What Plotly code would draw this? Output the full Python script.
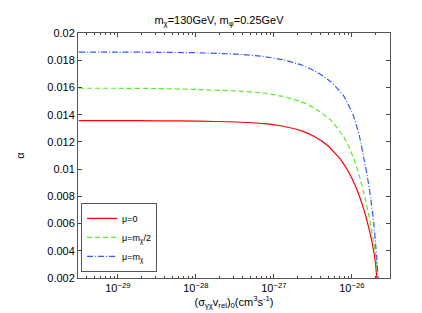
import plotly.graph_objects as go

# log10 of (sigma v)_0 and alpha
red_logx = [-29.5, -29.0, -28.5, -27.983, -27.481, -27.126, -26.881, -26.636, -26.474, -26.310, -26.147,
            -26.024, -25.963, -25.902, -25.841, -25.780, -25.739, -25.698, -25.687, -25.678]
red_alpha = [0.01356, 0.01356, 0.01355, 0.01353, 0.01346, 0.01334, 0.01315, 0.01279, 0.01238, 0.01174, 0.01073,
             0.00961, 0.00888, 0.00801, 0.00695, 0.00564, 0.00460, 0.00320, 0.00254, 0.00200]

green_logx = [-29.5, -29.0, -28.5, -27.983, -27.481, -27.126, -26.881, -26.677, -26.474, -26.269, -26.106,
              -26.024, -25.963, -25.902, -25.841, -25.780, -25.739, -25.698, -25.678, -25.666]
green_alpha = [0.01594, 0.01594, 0.01592, 0.01585, 0.01574, 0.01559, 0.01534, 0.01501, 0.01447, 0.01359, 0.01239,
               0.01148, 0.01060, 0.00948, 0.00813, 0.00654, 0.00532, 0.00382, 0.00280, 0.00200]

blue_logx = [-29.5, -29.0, -28.5, -27.983, -27.481, -27.126, -26.881, -26.636, -26.474, -26.269, -26.106,
             -25.984, -25.902, -25.841, -25.800, -25.759, -25.718, -25.694, -25.678, -25.666, -25.662]
blue_alpha = [0.01860, 0.01860, 0.01858, 0.01855, 0.01845, 0.01827, 0.01803, 0.01763, 0.01721, 0.01643, 0.01540,
              0.01400, 0.01243, 0.01067, 0.00944, 0.00795, 0.00604, 0.00445, 0.00339, 0.00229, 0.00200]

x_tickvals = [1e-29, 1e-28, 1e-27, 1e-26]
x_ticktext = ["10<sup>−29</sup>", "10<sup>−28</sup>", "10<sup>−27</sup>", "10<sup>−26</sup>"]
y_tickvals = [0.002, 0.004, 0.006, 0.008, 0.01, 0.012, 0.014, 0.016, 0.018, 0.02]
y_ticktext = ["0.002", "0.004", "0.006", "0.008", "0.01", "0.012", "0.014", "0.016", "0.018", "0.02"]


def lin(v):
    return [10 ** a for a in v]


fig = go.Figure()
fig.add_trace(go.Scatter(x=lin(red_logx), y=red_alpha, mode="lines", name="μ=0",
                         line=dict(color="#ff0000", width=1.2, shape="spline", smoothing=0.4)))
fig.add_trace(go.Scatter(x=lin(green_logx), y=green_alpha, mode="lines", name="μ=m<sub>χ</sub>/2",
                         line=dict(color="#55ee22", width=1.2, dash="5px,3px", shape="spline", smoothing=0.4)))
fig.add_trace(go.Scatter(x=lin(blue_logx), y=blue_alpha, mode="lines", name="μ=m<sub>χ</sub>",
                         line=dict(color="#3355ff", width=1.2, dash="6px,2px,1px,2px", shape="spline", smoothing=0.4)))

minor_vals = []
for e in range(-30, -25):
    for m in range(2, 10):
        minor_vals.append(m * 10 ** e)

fig.update_layout(
    width=422, height=313,
    margin=dict(l=55, r=40, t=25, b=43),
    paper_bgcolor="white", plot_bgcolor="white",
    font=dict(family="Liberation Sans, Arial, sans-serif", size=11, color="black"),
    title=dict(text="m<sub>χ</sub>=130GeV, m<sub>φ</sub>=0.25GeV", x=0.5, xanchor="center",
               y=0.975, yanchor="top", font=dict(size=11)),
    showlegend=True,
    legend=dict(x=0.01, y=0.025, xanchor="left", yanchor="bottom",
                bordercolor="#555555", borderwidth=1, bgcolor="white",
                font=dict(size=9), tracegroupgap=0, itemwidth=30),
    xaxis=dict(type="log", range=[-29.51, -25.51],
               tickvals=x_tickvals, ticktext=x_ticktext,
               ticks="inside", ticklen=4, tickcolor="#444", mirror="ticks",
               showline=True, linecolor="#555555", linewidth=1, showgrid=False, zeroline=False,
               minor=dict(tickvals=minor_vals, ticks="inside", ticklen=2, tickcolor="#444"),
               title=dict(text="(σ<sub>γχ</sub>v<sub>rel</sub>)<sub>0</sub>(cm<sup>3</sup>s<sup>-1</sup>)",
                          standoff=0, font=dict(size=11))),
    yaxis=dict(range=[0.002, 0.02], tickvals=y_tickvals, ticktext=y_ticktext,
               ticks="inside", ticklen=4, tickcolor="#444", mirror="ticks",
               showline=True, linecolor="#555555", linewidth=1, showgrid=False, zeroline=False,
               title=dict(text="α", standoff=20, font=dict(size=11))),
)

fig.write_html("out.html")
